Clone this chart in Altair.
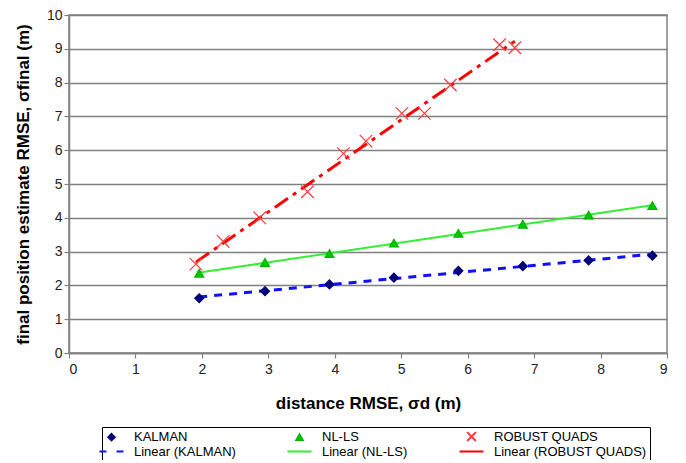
import altair as alt
import pandas as pd

# ---- data ----
kalman_x = [1.96, 2.95, 3.92, 4.89, 5.86, 6.83, 7.82, 8.78]
kalman_y = [1.62, 1.83, 2.03, 2.23, 2.43, 2.57, 2.74, 2.88]
nlls_x = [1.96, 2.95, 3.92, 4.89, 5.86, 6.83, 7.82, 8.78]
nlls_y = [2.36, 2.68, 2.94, 3.25, 3.54, 3.81, 4.08, 4.36]
robust_x = [1.91, 2.32, 2.87, 3.59, 4.13, 4.47, 5.01, 5.35, 5.74, 6.48, 6.71]
robust_y = [2.63, 3.30, 4.00, 4.77, 5.90, 6.27, 7.09, 7.09, 7.93, 9.12, 9.03]

series = ["KALMAN", "NL-LS", "ROBUST QUADS"]
linear = ["Linear (KALMAN)", "Linear (NL-LS)", "Linear (ROBUST QUADS)"]
x_ticks = [0, 1, 2, 3, 4, 5, 6, 7, 8, 9]
y_ticks = [0, 1, 2, 3, 4, 5, 6, 7, 8, 9, 10]

rows = []
for name, xs, ys in zip(series, [kalman_x, nlls_x, robust_x], [kalman_y, nlls_y, robust_y]):
    for a, b in zip(xs, ys):
        rows.append({"series": name, "x": a, "y": b})
df = pd.DataFrame(rows)

domain = series + linear
stroke_scale = alt.Scale(domain=domain,
                         range=["#00007a", "#00b400", "#ff3b3b", "#1010ff", "#33ee33", "#ff0000"])
fill_scale = alt.Scale(domain=domain,
                       range=["#00007a", "#00c800", "transparent", "transparent", "transparent", "transparent"])
shape_scale = alt.Scale(domain=domain,
                        range=["diamond", "triangle-up", "M-1.4,-1.4L1.4,1.4M-1.4,1.4L1.4,-1.4",
                               "M-3.8,0L-1.6,0M1.6,0L3.8,0", "M-3.8,0L3.8,0", "M-3.8,0L3.8,0"])

legend = alt.Legend(title=None, orient="none", legendX=33, legendY=412, columns=3,
                    direction="horizontal", symbolSize=40, symbolStrokeWidth=2,
                    labelFont="Liberation Sans", labelFontSize=13, labelColor="black",
                    labelOffset=16, columnPadding=47, rowPadding=0, padding=3,
                    strokeColor="black", fillColor="white", symbolOpacity=1)

xenc = alt.X("x:Q", scale=alt.Scale(domain=[0, 9], nice=False),
             axis=alt.Axis(values=x_ticks, title="distance RMSE, σd (m)", grid=False,
                           tickSize=5, labelPadding=4, titlePadding=19))
yenc = alt.Y("y:Q", scale=alt.Scale(domain=[0, 10], nice=False),
             axis=alt.Axis(values=y_ticks, title="final position estimate RMSE, σfinal (m)",
                           grid=True, tickSize=5, labelPadding=2, titlePadding=14))


def trend(name, dash, width):
    return (alt.Chart(df)
            .transform_filter(alt.datum.series == name)
            .transform_regression("x", "y")
            .transform_calculate(series='"Linear (' + name + ')"')
            .mark_line(strokeDash=dash, strokeWidth=width)
            .encode(x=xenc, y=yenc,
                    stroke=alt.Stroke("series:N", scale=stroke_scale, legend=legend)))


points = alt.Chart(df).mark_point(filled=True, opacity=1, size=80, strokeWidth=1.2).encode(
    x=xenc, y=yenc,
    stroke=alt.Stroke("series:N", scale=stroke_scale, legend=legend),
    fill=alt.Fill("series:N", scale=fill_scale, legend=legend),
    shape=alt.Shape("series:N", scale=shape_scale, legend=legend),
)

chart = alt.layer(
    trend("KALMAN", [8, 7], 3),
    trend("NL-LS", [1, 0], 2),
    trend("ROBUST QUADS", [16, 6, 4, 6], 3),
    points,
).properties(
    width=598, height=338,
    padding={"left": 61, "top": 7, "right": 11, "bottom": 107},
    autosize=alt.AutoSizeParams(type="none"),
).configure_view(
    stroke="#808080", strokeWidth=1.5
).configure_axis(
    labelFont="Liberation Sans", labelFontSize=14, labelColor="#222222",
    titleFont="Liberation Sans", titleFontSize=17, titleFontWeight="bold", titleColor="black",
    gridColor="#808080", gridWidth=1.5, gridOpacity=1,
    domainColor="#808080", domainWidth=1.5, tickColor="#808080", tickWidth=1.2,
)

chart.save("out.html", embed_options={"renderer": "svg", "actions": False})
